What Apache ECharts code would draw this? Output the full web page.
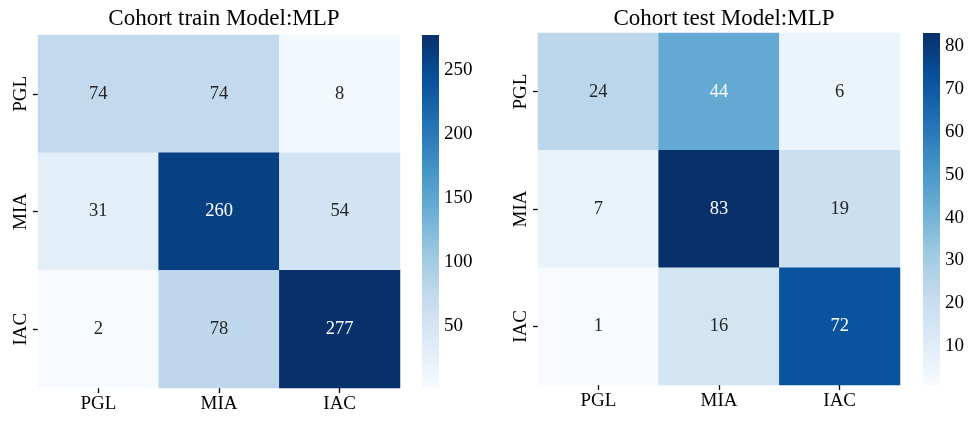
<!DOCTYPE html>
<html>
<head>
<meta charset="utf-8">
<script src="https://cdn.jsdelivr.net/npm/echarts@6/dist/echarts.min.js"></script>
<style>
  html, body { margin: 0; padding: 0; background: #fff; }
  #chart { width: 974px; height: 422px; }
</style>
</head>
<body>
<div id="chart"></div>
<script>
// Class labels (rows = true class, columns = predicted class)
const classes = ['PGL', 'MIA', 'IAC'];

// Confusion matrices
const trainMatrix = [
  [74, 74, 8],
  [31, 260, 54],
  [2, 78, 277]
];
const testMatrix = [
  [24, 44, 6],
  [7, 83, 19],
  [1, 16, 72]
];

// Colour bar tick labels
const trainTicks = [50, 100, 150, 200, 250];
const testTicks = [10, 20, 30, 40, 50, 60, 70, 80];

const titles = ['Cohort train Model:MLP', 'Cohort test Model:MLP'];

// matplotlib "Blues" colormap stops
const blues = ['#f7fbff', '#deebf7', '#c6dbef', '#9ecae1', '#6baed6',
               '#4292c6', '#2171b5', '#08519c', '#08306b'];

const FONT = '"Liberation Serif", "Times New Roman", serif';

function hexToRgb(h) {
  return [parseInt(h.slice(1, 3), 16), parseInt(h.slice(3, 5), 16), parseInt(h.slice(5, 7), 16)];
}
function cmap(t) {
  t = Math.max(0, Math.min(1, t));
  const pos = t * (blues.length - 1);
  const i = Math.min(Math.floor(pos), blues.length - 2);
  const f = pos - i;
  const a = hexToRgb(blues[i]), b = hexToRgb(blues[i + 1]);
  return a.map((v, k) => v + (b[k] - v) * f);
}
function luminance(rgb) {
  const c = rgb.map(v => {
    v = v / 255;
    return v <= 0.03928 ? v / 12.92 : Math.pow((v + 0.055) / 1.055, 2.4);
  });
  return 0.2126 * c[0] + 0.7152 * c[1] + 0.0722 * c[2];
}

function flatMin(m) { return Math.min(...m.flat()); }
function flatMax(m) { return Math.max(...m.flat()); }

const panels = [
  { matrix: trainMatrix, ticks: trainTicks, title: titles[0],
    grid: { left: 38, top: 35, width: 362, height: 353 },
    bar: { left: 422, top: 35, width: 17, height: 353 } },
  { matrix: testMatrix, ticks: testTicks, title: titles[1],
    grid: { left: 538, top: 33, width: 362, height: 352 },
    bar: { left: 923, top: 33, width: 17, height: 352 } }
];

const option = {
  backgroundColor: '#fff',
  animation: false,
  textStyle: { fontFamily: FONT },
  title: [], grid: [], xAxis: [], yAxis: [], visualMap: [], series: []
};

panels.forEach((p, idx) => {
  const vmin = flatMin(p.matrix), vmax = flatMax(p.matrix);
  const gHeat = option.grid.length;
  option.grid.push(p.grid);
  option.grid.push(p.bar);
  const gBar = gHeat + 1;

  option.title.push({
    text: p.title,
    left: p.grid.left + p.grid.width / 2,
    top: 2,
    textAlign: 'center',
    textStyle: { fontFamily: FONT, fontSize: 23, fontWeight: 'normal', color: '#000' }
  });

  const catAxis = (pos, inverse, rotate) => ({
    type: 'category', gridIndex: gHeat, data: classes, position: pos, inverse: inverse,
    axisLine: { show: false },
    axisTick: { show: true, alignWithLabel: true, length: 5, lineStyle: { color: '#000', width: 1.3 } },
    axisLabel: { color: '#000', fontSize: 19, fontFamily: FONT, margin: 7, rotate: rotate },
    splitLine: { show: false }, splitArea: { show: false }
  });
  const xHeat = option.xAxis.length;
  option.xAxis.push(catAxis('bottom', false, 0));
  const yHeat = option.yAxis.length;
  option.yAxis.push(catAxis('left', true, 90));

  const xBar = option.xAxis.length;
  option.xAxis.push({ type: 'value', gridIndex: gBar, min: 0, max: 1, show: false });
  const yBar = option.yAxis.length;
  option.yAxis.push({
    type: 'value', gridIndex: gBar, min: vmin, max: vmax, position: 'right',
    axisLine: { show: false }, splitLine: { show: false },
    axisTick: { show: true, length: 4, customValues: p.ticks, lineStyle: { color: '#000', width: 1.3 } },
    axisLabel: { show: true, customValues: p.ticks, color: '#000', fontSize: 19, fontFamily: FONT, margin: 5 }
  });

  const data = [];
  p.matrix.forEach((row, r) => row.forEach((v, c) => {
    const lum = luminance(cmap((v - vmin) / (vmax - vmin)));
    data.push({ value: [c, r, v], label: { color: lum > 0.408 ? '#262626' : '#ffffff' } });
  }));

  const sHeat = option.series.length;
  option.series.push({
    type: 'heatmap', xAxisIndex: xHeat, yAxisIndex: yHeat, data: data,
    itemStyle: { borderWidth: 0 },
    label: { show: true, formatter: q => q.value[2], fontSize: 18.5, fontFamily: FONT },
    emphasis: { disabled: true }
  });

  option.visualMap.push({
    type: 'continuous', show: false, seriesIndex: sHeat, dimension: 2,
    min: vmin, max: vmax, inRange: { color: blues }
  });

  // colour bar: one gradient rectangle spanning the value axis range
  const stops = blues.map((c, i) => ({ offset: 1 - i / (blues.length - 1), color: c }));
  stops.reverse();
  option.series.push({
    type: 'custom', xAxisIndex: xBar, yAxisIndex: yBar, silent: true,
    data: [[vmin, vmax]],
    renderItem: (params, api) => {
      const top = api.coord([0, api.value(1)]);
      const bot = api.coord([1, api.value(0)]);
      return {
        type: 'rect',
        shape: { x: top[0], y: top[1], width: bot[0] - top[0], height: bot[1] - top[1] },
        style: { fill: { type: 'linear', x: 0, y: 0, x2: 0, y2: 1, colorStops: stops } }
      };
    },
    encode: { x: -1, y: [0, 1] }
  });
});

const chart = echarts.init(document.getElementById('chart'), null, { renderer: 'canvas' });
chart.setOption(option);
</script>
</body>
</html>
